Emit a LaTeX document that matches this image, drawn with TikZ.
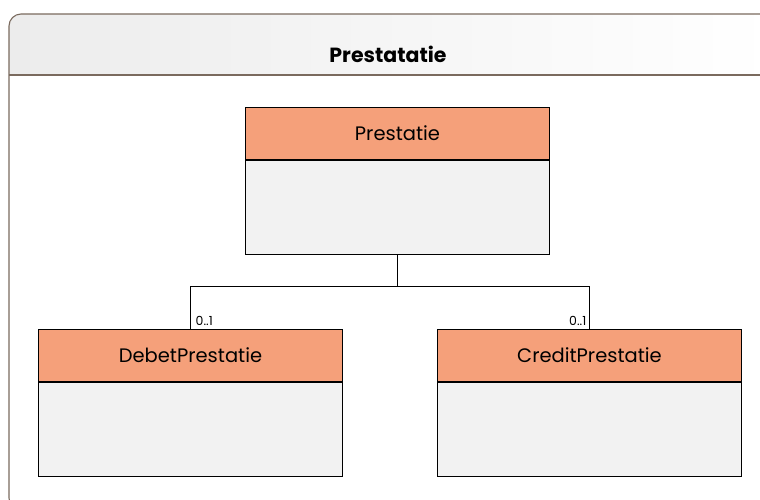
\documentclass[tikz,border=0pt]{standalone}
\usepackage{fontspec}
\setmainfont{Poppins}
\definecolor{hdr}{RGB}{245,160,122}
\definecolor{bodyc}{RGB}{242,242,242}
\definecolor{frm}{RGB}{122,106,94}
\definecolor{frmfill}{RGB}{236,236,236}
\begin{document}
\begin{tikzpicture}[x=1pt,y=-1pt,
  clshead/.style={draw=black, fill=hdr, minimum width=304pt, minimum height=52pt, anchor=north west, inner sep=0pt, font=\fontsize{19.5}{22}\selectfont, line width=1pt},
  clsbody/.style={draw=black, fill=bodyc, minimum width=304pt, minimum height=94pt, anchor=north, inner sep=0pt, line width=1pt},
  conn/.style={draw=black, line width=1pt},
  mult/.style={font=\fontsize{12.5}{14}\selectfont, inner sep=1pt},
  frame/.style={draw=frm, line width=1.1pt}]
\useasboundingbox (0,0) rectangle (760,499);
\begin{scope}
  \clip (0,0) rectangle (760,499);
  \shade[left color=frmfill, right color=white, rounded corners=12pt] (9,75) -- (9,14) -- (773,14) -- (773,75) [sharp corners] -- cycle;
  \draw[frame, rounded corners=12pt] (9,510) -- (9,14) -- (773,14) -- (773,510) -- cycle;
  \draw[frame] (9,75) -- (773,75);
\end{scope}
\node[font=\bfseries\fontsize{20.5}{24}\selectfont] (title) at (388,54) {Prestatatie};
% classes
\node[clshead] (ph) at (245,107) {Prestatie};
\node[clsbody] (pb) at (ph.south) {};
\node[clshead] (dh) at (38,329) {DebetPrestatie};
\node[clsbody] (db) at (dh.south) {};
\node[clshead] (ch) at (437,329) {CreditPrestatie};
\node[clsbody] (cb) at (ch.south) {};
% connectors
\draw[conn] (pb.south) -- ++(0,31) -| (dh.north);
\draw[conn] (pb.south) -- ++(0,31) -| (ch.north);
\node[mult, anchor=south west] (m1) at ([xshift=4pt,yshift=2pt]dh.north) {0..1};
\node[mult, anchor=south east] (m2) at ([xshift=-2pt,yshift=2pt]ch.north) {0..1};
\end{tikzpicture}
\end{document}
